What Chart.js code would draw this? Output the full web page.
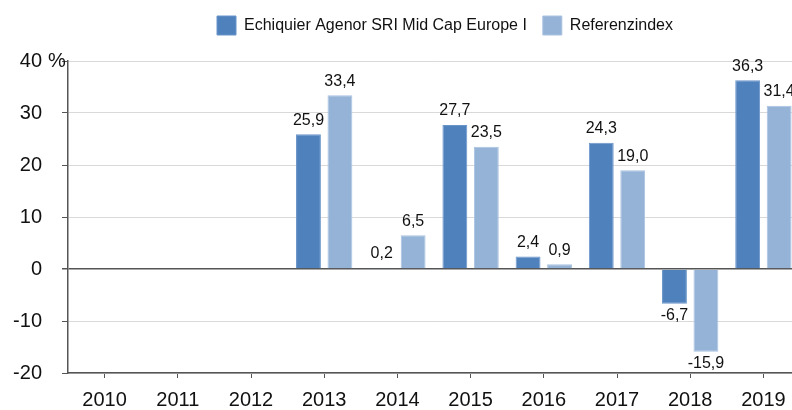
<!DOCTYPE html>
<html>
<head>
<meta charset="utf-8">
<script src="https://cdn.jsdelivr.net/npm/chart.js@4.4.1/dist/chart.umd.min.js"></script>
<style>
body { margin: 0; overflow: hidden; background: #fff; }
#wrap { width: 800px; height: 410px; }
</style>
</head>
<body>
<div id="wrap"><canvas id="perfChart" width="800" height="410"></canvas></div>
<script>
// Chart data
const years = ['2010', '2011', '2012', '2013', '2014', '2015', '2016', '2017', '2018', '2019'];
const fundValues = [null, null, null, 25.9, 0.2, 27.7, 2.4, 24.3, -6.7, 36.3];
const indexValues = [null, null, null, 33.4, 6.5, 23.5, 0.9, 19.0, -15.9, 31.4];
const seriesNames = ['Echiquier Agenor SRI Mid Cap Europe I', 'Referenzindex'];
const yMin = -20, yMax = 40, yStep = 10;

const FONT = '"Liberation Sans", Arial, sans-serif';
Chart.defaults.font.family = FONT;
Chart.defaults.color = '#111';

function fmt(v) {
    return v.toFixed(1).replace('.', ',');
}

// value labels above / below each bar
const valueLabels = {
    id: 'valueLabels',
    afterDatasetsDraw(chart) {
        const ctx = chart.ctx;
        ctx.save();
        ctx.font = '16px ' + FONT;
        ctx.fillStyle = '#111';
        ctx.textAlign = 'center';
        chart.data.datasets.forEach((ds, i) => {
            chart.getDatasetMeta(i).data.forEach((bar, j) => {
                const v = ds.data[j];
                if (v === null) return;
                if (v >= 0) {
                    ctx.textBaseline = 'bottom';
                    ctx.fillText(fmt(v), bar.x, bar.y - 6);
                } else {
                    ctx.textBaseline = 'top';
                    ctx.fillText(fmt(v), bar.x, bar.y + 4);
                }
            });
        });
        ctx.restore();
    }
};

// "%" after the top tick label
const percentMark = {
    id: 'percentMark',
    afterDraw(chart) {
        const y = chart.scales.y;
        const ctx = chart.ctx;
        ctx.save();
        ctx.font = '20px ' + FONT;
        ctx.fillStyle = '#111';
        ctx.textAlign = 'left';
        ctx.textBaseline = 'middle';
        ctx.fillText('%', chart.chartArea.left - 20, y.getPixelForValue(yMax));
        ctx.restore();
    }
};

// nudge the legend to the right and up
const legendShift = {
    id: 'legendShift',
    afterLayout(chart) {
        const lg = chart.legend;
        lg.left += 45; lg.right += 45;
        lg.top -= 16; lg.bottom -= 16;
    }
};

const ctx = document.getElementById('perfChart').getContext('2d');
const perfChart = new Chart(ctx, {
    type: 'bar',
    data: {
        labels: years,
        datasets: [{
            label: seriesNames[0],
            data: fundValues,
            backgroundColor: '#4f81bd',
            borderColor: '#6a95c9',
            borderWidth: 1
        }, {
            label: seriesNames[1],
            data: indexValues,
            backgroundColor: '#95b3d7',
            borderColor: '#a9c2e0',
            borderWidth: 1
        }]
    },
    plugins: [valueLabels, percentMark, legendShift],
    options: {
        responsive: false,
        animation: false,
        categoryPercentage: 0.86,
        barPercentage: 0.79,
        layout: { padding: { top: 16, left: 0, right: 0, bottom: 0 } },
        plugins: {
            legend: {
                position: 'top',
                labels: {
                    boxWidth: 19,
                    boxHeight: 19,
                    padding: 16,
                    font: { size: 16 },
                    color: '#111'
                }
            },
            tooltip: { enabled: false }
        },
        scales: {
            x: {
                afterFit: function(scale) { scale.height = 37; },
                grid: {
                    offset: false,
                    drawOnChartArea: false,
                    drawTicks: true,
                    tickLength: 5,
                    tickColor: '#555'
                },
                border: { display: true, color: '#555', width: 1.5 },
                ticks: { font: { size: 20 }, color: '#111', padding: 10, maxRotation: 0 }
            },
            y: {
                min: yMin,
                max: yMax,
                afterFit: function(scale) { scale.width = 68; },
                grid: {
                    color: ctx => ctx.tick && ctx.tick.value === 0 ? '#555' : '#d9d9d9',
                    lineWidth: ctx => ctx.tick && ctx.tick.value === 0 ? 1.5 : 1,
                    tickColor: '#555',
                    tickLength: 6
                },
                border: { display: true, color: '#555', width: 1.5 },
                ticks: {
                    stepSize: yStep,
                    font: { size: 20 },
                    color: '#111',
                    padding: 20
                }
            }
        }
    }
});
</script>
</body>
</html>
